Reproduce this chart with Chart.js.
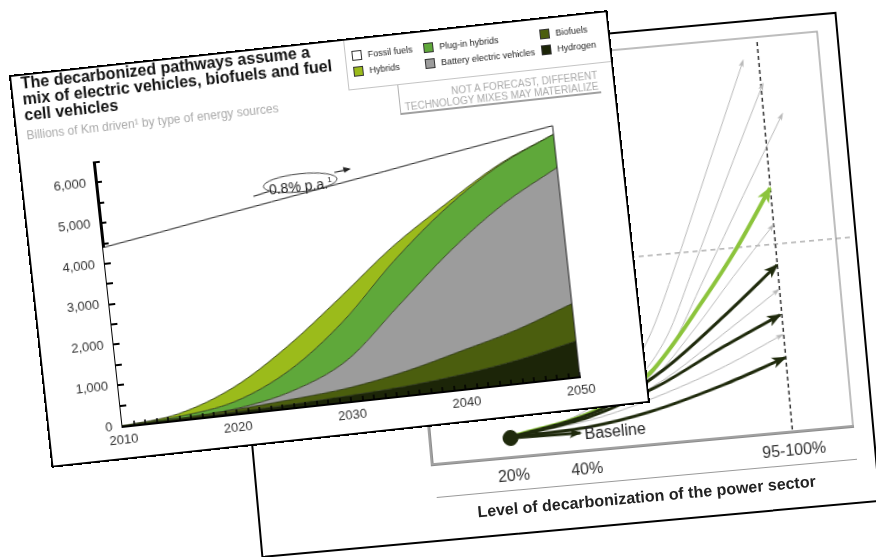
<!DOCTYPE html>
<html>
<head>
<meta charset="utf-8">
<script src="https://cdn.jsdelivr.net/npm/chart.js@4.4.1/dist/chart.umd.min.js"></script>
<style>
  html, body { margin:0; padding:0; background:#fff; }
  body { width:876px; height:557px; overflow:hidden; position:relative; font-family:"Liberation Sans", Arial, Helvetica, sans-serif; }
  .card { position:absolute; background:#fff; transform-origin:0 0; }
  .card canvas { position:absolute; left:0; top:0; }
  .edge { position:absolute; left:-1px; top:-1px; right:-1px; bottom:-1px; border:2px solid #000; }
  .abs { position:absolute; white-space:nowrap; }
  #back { left:218px; top:69px; width:620px; height:490px; transform:rotate(-5.2deg); }
  #front { left:10px; top:76px; width:600px; height:393px; transform:rotate(-6.2deg); }
  .title { left:10px; top:1px; font-weight:bold; font-size:16px; line-height:16px; color:#111; }
  .sub { left:10px; top:55px; font-size:12px; line-height:12px; color:#aaa; }
  .lgbox { position:absolute; left:335px; top:0; width:265px; height:51px; border:1px solid #c4c4c4; box-sizing:border-box; }
  .sw { position:absolute; width:10px; height:10px; box-sizing:border-box; border:1px solid #333; }
  .lt { position:absolute; font-size:9px; line-height:10px; color:#222; white-space:nowrap; }
  .note { right:16px; top:57px; font-size:10px; line-height:11px; color:#aaa; text-align:right; }
</style>
</head>
<body>

<div id="back" class="card">
  <canvas id="backChart" width="620" height="490"></canvas>
  <div class="abs" style="left:332px;top:388px;font-size:16px;line-height:18px;color:#222;">Baseline</div>
  <div class="abs" style="left:179px;top:446px;width:422px;height:1px;background:#9a9a9a;"></div>
  <div class="abs" style="left:388px;top:456px;transform:translateX(-50%);font-size:16px;line-height:18px;font-weight:bold;color:#222;">Level of decarbonization of the power sector</div>
  <div class="edge"></div>
</div>

<div id="front" class="card">
  <canvas id="frontChart" width="600" height="393"></canvas>
  <div class="abs title">The decarbonized pathways assume a<br>mix of electric vehicles, biofuels and fuel<br>cell vehicles</div>
  <div class="abs sub">Billions of Km driven¹ by type of energy sources</div>
  <div class="lgbox"></div>
  <div class="sw" style="left:342px;top:12px;background:#fff;"></div>
  <div class="lt" style="left:358px;top:12px;">Fossil fuels</div>
  <div class="sw" style="left:342px;top:28px;background:#9bbb1b;"></div>
  <div class="lt" style="left:358px;top:28px;">Hybrids</div>
  <div class="sw" style="left:414px;top:12px;background:#5fa83a;"></div>
  <div class="lt" style="left:430px;top:12px;">Plug-in hybrids</div>
  <div class="sw" style="left:414px;top:28px;background:#9c9c9c;"></div>
  <div class="lt" style="left:430px;top:28px;">Battery electric vehicles</div>
  <div class="sw" style="left:531px;top:11px;background:#4b5e0e;"></div>
  <div class="lt" style="left:547px;top:11px;">Biofuels</div>
  <div class="sw" style="left:531px;top:27px;background:#1c2508;"></div>
  <div class="lt" style="left:547px;top:27px;">Hydrogen</div>
  <div class="abs" style="left:384px;top:51px;width:1px;height:29px;background:#b0b0b0;"></div>
  <div class="abs" style="left:384px;top:79px;width:202px;height:2px;background:#a0a0a0;"></div>
  <div class="abs note">NOT A FORECAST, DIFFERENT<br>TECHNOLOGY MIXES MAY MATERIALIZE</div>
  <svg class="abs" style="left:0;top:0;" width="600" height="393">
    <line x1="229" y1="146" x2="246" y2="142.5" stroke="#222" stroke-width="1.2"/>
    <ellipse cx="277" cy="137.5" rx="37" ry="9" fill="#fff" stroke="#444" stroke-width="1"/>
    <line x1="312" y1="131" x2="323" y2="129.6" stroke="#222" stroke-width="1.2"/>
    <polygon points="329,129 321,126.4 322,132.2" fill="#222"/>
  </svg>
  <div class="abs" style="left:277px;top:129px;transform:translateX(-50%);font-size:14px;line-height:17px;color:#222;">0.8% p.a.<span style="font-size:8px;vertical-align:6px;">1</span></div>
  <div class="edge"></div>
</div>

<script>
// ---------- Front chart data (billions of km driven) ----------
const years = [2010, 2015, 2020, 2025, 2030, 2035, 2040, 2045, 2050];
const hydrogen = [0, 10, 40, 80, 140, 220, 360, 570, 870];
const biofuels = [0, 20, 60, 120, 190, 360, 570, 730, 920];
const batteryEV = [0, 0, 20, 200, 670, 1620, 2470, 3100, 3360];
const plugInHybrids = [0, 50, 180, 520, 950, 1100, 1050, 950, 820];
const hybrids = [0, 70, 350, 580, 600, 350, 100, 30, 0];
const totalKm = [4400, 4620, 4850, 5070, 5290, 5510, 5740, 5960, 6180];
const yTickValues = [0, 1000, 2000, 3000, 4000, 5000, 6000];
const xTickValues = [2010, 2020, 2030, 2040, 2050];

// ---------- Back chart data (decarbonization level %, index) ----------
const decarbTicks = [20, 40, 96.5];
const decarbTickLabels = ['20%', '40%', '95-100%'];
const startPoint = [[20, 4.8]];
const baselinePath = [[20, 4.8], [39, 4.5]];
const grayPathA = [[20, 5], [40, 9.5], [52, 17], [60, 27], [67.6, 41.7], [80.9, 70.2], [92.2, 94.3]];
const grayPathB = [[20, 5], [40, 9], [55, 16], [65, 27], [72.6, 41.3], [87.2, 69.6], [97, 88]];
const grayPathC = [[20, 5], [40, 8.5], [55, 14], [65, 23], [76.6, 40.9], [89, 60.5], [101.5, 80]];
const greenPath = [[20, 5], [45, 10.2], [59.3, 17.9], [75.6, 35.1], [86, 47.5], [96.4, 61.7]];
const grayPathD = [[20, 5], [45, 10], [60, 16.5], [72, 27.5], [84.3, 40.3], [96.3, 52.3]];
const darkPathA = [[20, 5], [44.9, 9.8], [63, 18.4], [80.7, 30.5], [96.4, 42.2]];
const grayPathE = [[20, 5], [44, 9], [62, 15.5], [80, 26], [96.1, 35.9]];
const darkPathB = [[20, 5], [42, 8.3], [61, 14.4], [79, 22.5], [96, 29.6]];
const grayPathF = [[20, 5], [45, 8], [63, 12.5], [80, 18], [96, 24.5]];
const darkPathC = [[20, 5], [41.8, 5.8], [58.4, 8.2], [78.9, 13.3], [96.3, 18.7]];
const fullDecarbLine = [[96.5, 0.5], [96.5, 99.5]];
const referenceLevel = [[-2, 47.5], [117, 47.5]];

Chart.defaults.font.family = '"Liberation Sans", Arial, Helvetica, sans-serif';
Chart.defaults.animation = false;
Chart.defaults.plugins.legend.display = false;
Chart.defaults.plugins.tooltip.enabled = false;

// ---------- Front chart ----------
const fossil = years.map((_, i) => totalKm[i] - (hydrogen[i] + biofuels[i] + batteryEV[i] + plugInHybrids[i] + hybrids[i]));
const toXY = arr => years.map((yr, i) => ({ x: yr, y: arr[i] }));

function area(label, arr, color, fill) {
  return {
    label, data: toXY(arr), backgroundColor: color, borderColor: '#263010',
    borderWidth: 0.8, fill, pointRadius: 0, cubicInterpolationMode: 'monotone'
  };
}

const insideTicks = {
  id: 'insideTicks',
  afterDraw(chart) {
    const { ctx, scales: { x, y } } = chart;
    ctx.save();
    ctx.strokeStyle = '#000';
    ctx.lineWidth = 2;
    for (let v = 500; v <= 6500; v += 500) {
      const py = Math.round(y.getPixelForValue(v));
      ctx.beginPath(); ctx.moveTo(x.left, py); ctx.lineTo(x.left + 6, py); ctx.stroke();
    }
    ctx.lineWidth = 1.5;
    for (let yr = 2011; yr <= 2050; yr++) {
      const px = Math.round(x.getPixelForValue(yr));
      ctx.beginPath(); ctx.moveTo(px, y.bottom); ctx.lineTo(px, y.bottom - 4); ctx.stroke();
    }
    const pxr = x.getPixelForValue(years[years.length - 1]);
    ctx.lineWidth = 1;
    ctx.strokeStyle = '#222';
    ctx.beginPath();
    ctx.moveTo(pxr, y.getPixelForValue(totalKm[totalKm.length - 1]));
    ctx.lineTo(pxr, y.getPixelForValue(0));
    ctx.stroke();
    ctx.restore();
  }
};

new Chart(document.getElementById('frontChart'), {
  type: 'line',
  data: {
    datasets: [
      area('Hydrogen', hydrogen, '#1c2508', 'origin'),
      area('Biofuels', biofuels, '#4b5e0e', '-1'),
      area('Battery electric vehicles', batteryEV, '#9c9c9c', '-1'),
      area('Plug-in hybrids', plugInHybrids, '#5fa83a', '-1'),
      area('Hybrids', hybrids, '#9bbb1b', '-1'),
      Object.assign(area('Fossil fuels', fossil, '#ffffff', '-1'), { borderColor: '#222', borderWidth: 1 })
    ]
  },
  options: {
    responsive: false,
    devicePixelRatio: 1,
    layout: { padding: { top: 95, right: 66, left: 0, bottom: 0 } },
    scales: {
      x: {
        type: 'linear', min: 2010, max: 2050,
        afterBuildTicks: s => { s.ticks = xTickValues.map(v => ({ value: v })); },
        afterFit: s => { s.height = 33; },
        grid: { display: false, drawTicks: false },
        border: { display: true, color: '#000', width: 3 },
        ticks: { color: '#333', font: { size: 13 }, padding: 7, maxRotation: 0, callback: v => String(v) }
      },
      y: {
        stacked: true, min: 0, max: 6500,
        afterBuildTicks: s => { s.ticks = yTickValues.map(v => ({ value: v })); },
        afterFit: s => { s.width = 74; },
        grid: { display: false, drawTicks: false },
        border: { display: true, color: '#000', width: 3 },
        ticks: { color: '#333', font: { size: 13 }, padding: 10, callback: v => v.toLocaleString('en-US') }
      }
    }
  },
  plugins: [insideTicks]
});

// ---------- Back chart ----------
const toPts = arr => arr.map(p => ({ x: p[0], y: p[1] }));

const framePlugin = {
  id: 'frame',
  beforeDatasetsDraw(chart) {
    const { ctx, chartArea: a } = chart;
    ctx.save();
    ctx.strokeStyle = '#a8a8a8';
    ctx.lineWidth = 1.5;
    ctx.strokeRect(a.left, a.top, a.right - a.left, a.bottom - a.top);
    ctx.restore();
  }
};

const arrowPlugin = {
  id: 'arrowheads',
  afterDatasetsDraw(chart) {
    const ctx = chart.ctx;
    chart.data.datasets.forEach((ds, i) => {
      if (!ds.arrowHead) return;
      const pts = chart.getDatasetMeta(i).data;
      const last = pts[pts.length - 1], prev = pts[pts.length - 2];
      let dx = last.x - (last.cp1x !== undefined ? last.cp1x : prev.x);
      let dy = last.y - (last.cp1y !== undefined ? last.cp1y : prev.y);
      if (Math.hypot(dx, dy) < 0.5) { dx = last.x - prev.x; dy = last.y - prev.y; }
      const ang = Math.atan2(dy, dx);
      const L = ds.arrowHead[0], W = ds.arrowHead[1];
      ctx.save();
      ctx.translate(last.x, last.y);
      ctx.rotate(ang);
      ctx.beginPath();
      ctx.moveTo(2, 0);
      ctx.lineTo(-L, -W / 2);
      ctx.lineTo(-L * 0.7, 0);
      ctx.lineTo(-L, W / 2);
      ctx.closePath();
      ctx.fillStyle = ds.borderColor;
      ctx.fill();
      ctx.restore();
    });
  }
};

function path(data, color, width, head, order) {
  return {
    data: toPts(data), borderColor: color, borderWidth: width, pointRadius: 0,
    fill: false, cubicInterpolationMode: 'monotone', arrowHead: head, order
  };
}

const GRAY = '#b8b8b8', DARK = '#1f2a0c', GREEN = '#8cc43c';

new Chart(document.getElementById('backChart'), {
  type: 'line',
  data: {
    datasets: [
      { data: toPts(startPoint), showLine: false, pointRadius: 7.5, pointBackgroundColor: DARK, pointBorderColor: DARK, order: 0 },
      path(baselinePath, DARK, 3, [11, 9], 1),
      path(darkPathA, DARK, 3, [13, 11], 2),
      path(darkPathB, DARK, 3, [13, 11], 2),
      path(darkPathC, DARK, 3, [13, 11], 2),
      path(greenPath, GREEN, 4, [14, 13], 3),
      path(grayPathA, GRAY, 1, [6, 5], 4),
      path(grayPathB, GRAY, 1, [6, 5], 4),
      path(grayPathC, GRAY, 1, [6, 5], 4),
      path(grayPathD, GRAY, 1, [6, 5], 4),
      path(grayPathE, GRAY, 1, [6, 5], 4),
      path(grayPathF, GRAY, 1, [6, 5], 4),
      { data: toPts(fullDecarbLine), borderColor: '#333', borderWidth: 1.5, borderDash: [4, 3], pointRadius: 0, fill: false, order: 5 },
      { data: toPts(referenceLevel), borderColor: '#8a8a8a', borderWidth: 1, borderDash: [5, 4], pointRadius: 0, fill: false, clip: false, order: 6 }
    ]
  },
  options: {
    responsive: false,
    devicePixelRatio: 1,
    layout: { padding: { top: 17, right: 20, left: 0, bottom: 0 } },
    scales: {
      x: {
        type: 'linear', min: -2, max: 113,
        afterBuildTicks: s => { s.ticks = decarbTicks.map(v => ({ value: v })); },
        afterFit: s => { s.height = 77; },
        grid: { display: false, drawTicks: false },
        border: { display: true, color: '#8c8c8c', width: 3 },
        ticks: { color: '#333', font: { size: 16 }, padding: 10, maxRotation: 0,
                 callback: v => decarbTickLabels[decarbTicks.indexOf(v)] }
      },
      y: {
        min: 0, max: 100,
        afterFit: s => { s.width = 177; },
        grid: { display: false, drawTicks: false },
        border: { display: true, color: '#8c8c8c', width: 3 },
        ticks: { display: false }
      }
    }
  },
  plugins: [framePlugin, arrowPlugin]
});
</script>
</body>
</html>
